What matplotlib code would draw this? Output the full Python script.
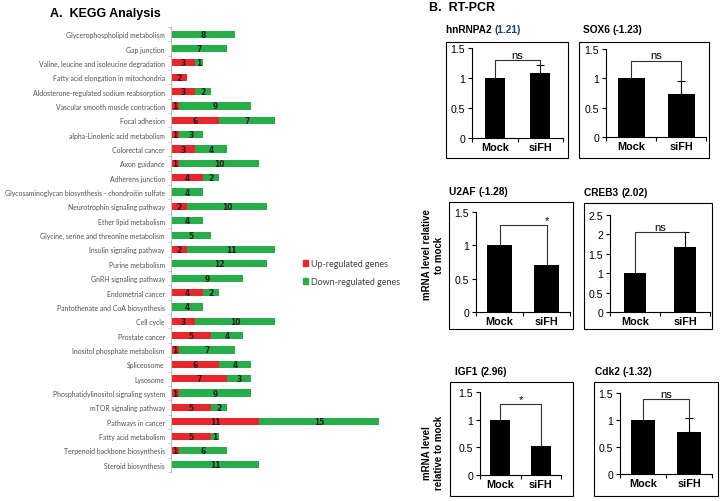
import numpy as np
import matplotlib
matplotlib.use("Agg")
import matplotlib.pyplot as plt
from matplotlib.patches import Patch, Rectangle

# ---- data: KEGG analysis (top to bottom) ----
pathways = [
    "Glycerophospholipid metabolism", "Gap junction",
    "Valine, leucine and isoleucine degradation",
    "Fatty acid elongation in mitochondria",
    "Aldosterone-regulated sodium reabsorption",
    "Vascular smooth muscle contraction", "Focal adhesion",
    "alpha-Linolenic acid metabolism", "Colorectal cancer", "Axon guidance",
    "Adherens junction",
    "Glycosaminoglycan biosynthesis - chondroitin sulfate",
    "Neurotrophin signaling pathway", "Ether lipid metabolism",
    "Glycine, serine and threonine metabolism", "Insulin signaling pathway",
    "Purine metabolism", "GnRH signaling pathway", "Endometrial cancer",
    "Pantothenate and CoA biosynthesis", "Cell cycle", "Prostate cancer",
    "Inositol phosphate metabolism", "Spliceosome", "Lysosome",
    "Phosphatidylinositol signaling system", "mTOR signaling pathway",
    "Pathways in cancer", "Fatty acid metabolism",
    "Terpenoid backbone biosynthesis", "Steroid biosynthesis",
]
up_genes = [0, 0, 3, 2, 3, 1, 6, 1, 3, 1, 4, 0, 2, 0, 0, 2, 0, 0, 4, 0,
            3, 5, 1, 6, 7, 1, 5, 11, 5, 1, 0]
down_genes = [8, 7, 1, 0, 2, 9, 7, 3, 4, 10, 2, 4, 10, 4, 5, 11, 12, 9, 2, 4,
              10, 4, 7, 4, 3, 9, 2, 15, 1, 6, 11]

# ---- data: RT-PCR ----
genes = ["hnRNPA2", "SOX6", "U2AF", "CREB3", "IGF1", "Cdk2"]
fold = ["(1.21)", "(-1.23)", "(-1.28)", "(2.02)", "(2.96)", "(-1.32)"]
groups = ["Mock", "siFH"]
mock_vals = [1.0, 1.0, 1.0, 1.0, 1.0, 1.0]
sifh_vals = [1.09, 0.73, 0.71, 1.67, 0.52, 0.78]
sifh_err = [0.13, 0.22, 0.0, 0.38, 0.0, 0.26]
sig_labels = ["ns", "ns", "*", "ns", "*", "ns"]
bracket_y = [1.3, 1.3, 1.3, 2.05, 1.28, 1.39]
ymax = [1.5, 1.5, 1.5, 2.5, 1.5, 1.5]
yticks = [[0, 0.5, 1, 1.5]] * 3 + [[0, 0.5, 1, 1.5, 2, 2.5]] + [[0, 0.5, 1, 1.5]] * 2

RED = "#E8262B"
GREEN = "#27AE4A"

W, H = 722, 502
fig = plt.figure(figsize=(W / 100, H / 100), dpi=100)


def px_axes(x0, y0, x1, y1):
    # pixel box (top-left origin) -> figure axes
    return fig.add_axes([x0 / W, 1 - y1 / H, (x1 - x0) / W, (y1 - y0) / H])


def fx(x):
    return x / W


def fy(y):
    return 1 - y / H


# ---- Panel A ----
ax = px_axes(171, 28, 395, 473)
y = np.arange(len(pathways))
ax.barh(y, up_genes, height=0.5, color=RED, label="Up-regulated genes")
ax.barh(y, down_genes, left=up_genes, height=0.5, color=GREEN,
        label="Down-regulated genes")
for i in range(len(pathways)):
    if up_genes[i] > 0:
        ax.text(up_genes[i] / 2, i, str(up_genes[i]), ha="center", va="center",
                fontsize=5.5, fontweight="bold", color="#202020")
    if down_genes[i] > 0:
        ax.text(up_genes[i] + down_genes[i] / 2, i, str(down_genes[i]),
                ha="center", va="center", fontsize=5.5, fontweight="bold",
                color="#202020")
ax.set_xlim(0, 28)
ax.set_ylim(len(pathways) - 0.5, -0.5)
ax.set_yticks(y)
ax.set_yticklabels(pathways, fontsize=4.95, color="#505050", family="Lato")
ax.tick_params(axis="y", length=0, pad=4.5)
ax.set_yticks(np.arange(-0.5, len(pathways), 1), minor=True)
ax.tick_params(axis="y", which="minor", length=2.5, color="#BFBFBF")
ax.set_xticks([])
for s in ["top", "right", "bottom"]:
    ax.spines[s].set_visible(False)
ax.spines["left"].set_color("#BFBFBF")
ax.spines["left"].set_linewidth(0.8)

ax.legend(handles=[Patch(color=RED, label="Up-regulated genes"),
                   Patch(color=GREEN, label="Down-regulated genes")],
          loc="upper left", bbox_to_anchor=(fx(303), fy(260)),
          bbox_transform=fig.transFigure, frameon=False,
          handlelength=0.6, handleheight=0.6, handletextpad=0.3,
          labelspacing=1.05, prop={"family": "Lato", "size": 6.4},
          labelcolor="#404040", borderaxespad=0, borderpad=0)

fig.text(fx(50), fy(14), "A.  KEGG Analysis", fontsize=9, fontweight="bold",
         family="Liberation Sans", va="center", ha="left")
fig.text(fx(429), fy(8), "B.  RT-PCR", fontsize=9, fontweight="bold",
         family="Liberation Sans", va="center", ha="left")

# ---- Panel B ----
# pixel boxes: frame, axes (x0, y_top, x1, y_zero), title anchor
boxes = [(446, 43, 568, 159), (579, 43, 709, 159), (449, 203, 573, 330),
         (584, 204, 712, 330), (450, 383, 573, 497), (594, 383, 718, 497)]
axboxes = [(472, 49, 563, 139), (606, 50, 706, 138), (476, 213, 570, 313),
           (610, 216, 710, 313), (480, 393, 561, 476), (620, 394, 712, 475)]
titles_xy = [(446, 30), (583, 30), (449, 192), (584, 193), (455, 372),
             (595, 372)]
bar_w = [0.45, 0.54, 0.55, 0.43, 0.5, 0.54]

for k in range(len(genes)):
    bx0, by0, bx1, by1 = boxes[k]
    fig.add_artist(Rectangle((fx(bx0), fy(by1)), fx(bx1 - bx0), (by1 - by0) / H,
                             transform=fig.transFigure, fill=False,
                             edgecolor="black", linewidth=0.8))
    a = px_axes(*axboxes[k])
    xs = np.array([0.5, 1.5])
    vals = [mock_vals[k], sifh_vals[k]]
    a.bar(xs, vals, width=bar_w[k], color="black")
    if sifh_err[k] > 0:
        a.errorbar(xs[1], sifh_vals[k], yerr=[[0], [sifh_err[k]]], fmt="none",
                   ecolor="black", elinewidth=0.8, capsize=3, capthick=0.8)
    # significance bracket
    left_top = mock_vals[k]
    right_top = sifh_vals[k] + sifh_err[k]
    h = bracket_y[k]
    a.plot([xs[0], xs[0], xs[1], xs[1]], [left_top, h, h, right_top],
           color="#303030", linewidth=0.8, clip_on=False)
    sx = xs[1] if k == 2 else xs.mean()
    a.text(sx, h + ymax[k] * 0.005, sig_labels[k], ha="center", va="bottom",
           fontsize=8, family="Liberation Sans")
    a.set_xlim(0, 2)
    a.set_ylim(0, ymax[k])
    a.set_yticks(yticks[k])
    a.set_yticklabels([f"{t:g}" for t in yticks[k]], fontsize=7.6,
                      family="Liberation Sans")
    a.set_xticks(xs)
    a.set_xticklabels(groups, fontsize=7.8, fontweight="bold",
                      family="Liberation Sans")
    a.tick_params(axis="x", length=0, pad=3)
    a.set_xticks([0, 1, 2], minor=True)
    a.tick_params(axis="x", which="minor", length=3, width=0.8)
    a.tick_params(axis="y", length=3, width=0.8, pad=2)
    for s in ["top", "right"]:
        a.spines[s].set_visible(False)
    for s in ["left", "bottom"]:
        a.spines[s].set_linewidth(0.8)
    tx, ty = titles_xy[k]
    t = fig.text(fx(tx), fy(ty), genes[k] + " ", fontsize=7.3, fontweight="bold",
                 family="Liberation Sans", va="center", ha="left")
    fig.canvas.draw()
    bb = t.get_window_extent()
    fig.text(bb.x1 / W, fy(ty), fold[k], fontsize=7.3, fontweight="bold",
             family="Liberation Sans", va="center", ha="left",
             color="#1F3A7A" if k == 0 else "black")

fig.text(fx(433), fy(255), "mRNA level relative\nto mock", rotation=90,
         fontsize=7, fontweight="bold", family="Liberation Sans",
         ha="center", va="center", multialignment="center")
fig.text(fx(433), fy(453), "mRNA level\nrelative to mock", rotation=90,
         fontsize=7, fontweight="bold", family="Liberation Sans",
         ha="center", va="center", multialignment="center")

fig.savefig("out.png", dpi=100)
